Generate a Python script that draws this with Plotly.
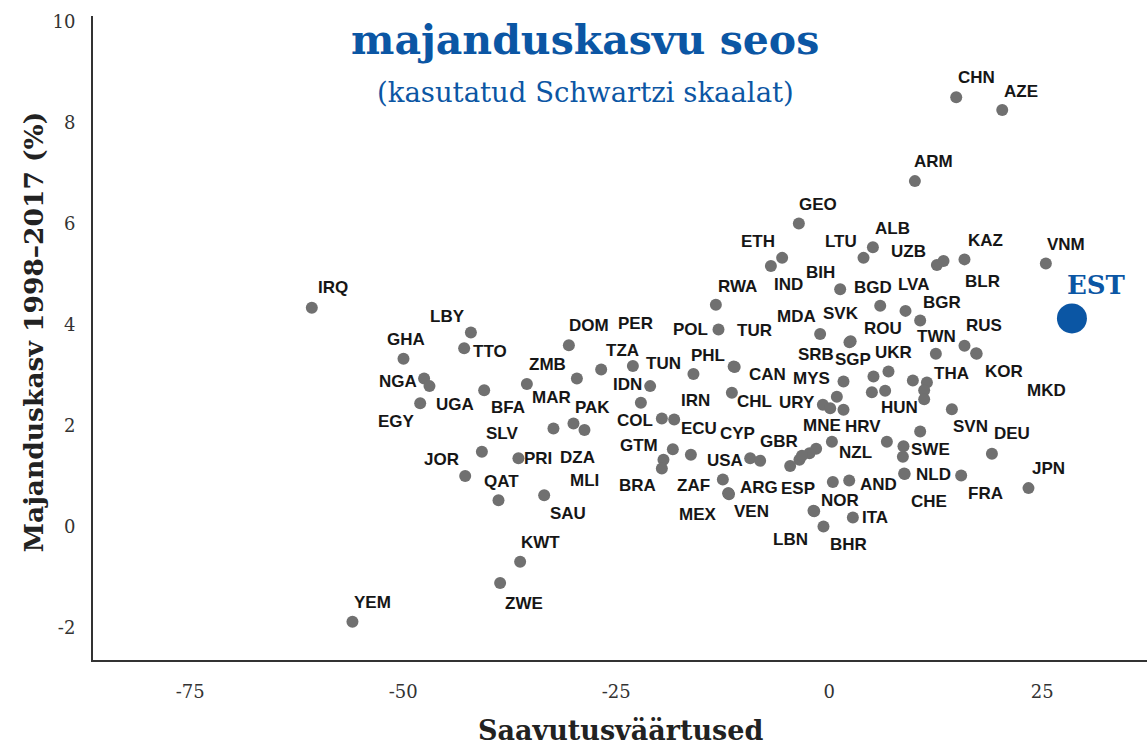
import plotly.graph_objects as go

# ---- data ----
codes = ["IRQ","YEM","GHA","LBY","TTO","NGA","UGA","EGY","BFA","MAR","ZMB","DOM","TZA","PER","TUN",
         "IDN","PAK","DZA","SLV","JOR","PRI","QAT","MLI","SAU","KWT","ZWE","RWA","POL","ETH","IND",
         "GEO","BIH","LTU","ALB","UZB","BLR","KAZ","VNM","CHN","AZE","ARM","BGD","LVA","BGR","MDA",
         "SVK","ROU","RUS","KOR","MKD","TWN","PHL","CAN","TUR","SGP","UKR","SRB","THA","MYS","CHL",
         "COL","IRN","ECU","GTM","BRA","USA","CYP","GBR","MNE","NZL","ZAF","MEX","ARG","VEN","NOR",
         "LBN","ITA","BHR","AND","ESP","NLD","CHE","FRA","JPN","DEU","SVN","SWE","HUN","HRV","URY",
         "X01","X02","X03","X04","X05","X06","X07","X08","X09","X10","X11","X12"]
achievement = [-60.72,-55.95,-49.96,-42.05,-42.84,-47.54,-46.91,-48.00,-40.49,-35.48,-29.61,-30.55,-26.76,-23.04,-21.01,
               -22.10,-30.01,-28.72,-40.76,-42.72,-36.47,-38.81,-32.36,-33.45,-36.27,-38.62,-13.30,-12.99,-5.52,-6.84,
               -3.56,1.29,4.03,5.13,12.64,13.42,15.88,25.43,14.91,20.31,10.06,5.99,8.96,10.68,-1.06,
               2.38,2.52,15.88,17.25,17.31,12.52,-15.93,-11.21,-11.09,5.20,6.96,1.68,11.47,0.90,-11.42,
               -19.64,-18.19,-16.23,-18.35,-19.45,-9.27,-8.10,-3.49,-1.53,0.32,-12.48,-11.82,-11.85,-11.76,-1.84,
               -1.76,2.78,-0.67,2.35,-4.58,8.80,8.86,15.49,23.39,19.10,14.40,8.65,10.68,6.77,-0.74,
               -19.64,-2.31,-3.20,0.43,8.72,0.12,1.68,5.01,6.57,9.82,11.15,11.15]
growth = [4.34,-1.875,3.33,3.85,3.54,2.94,2.79,2.45,2.71,2.83,2.94,3.60,3.12,3.19,2.79,
          2.46,2.05,1.92,1.49,1.01,1.36,0.53,1.95,0.63,-0.69,-1.11,4.40,3.91,5.33,5.17,
          6.01,4.71,5.33,5.54,5.19,5.27,5.30,5.22,8.51,8.26,6.85,4.38,4.28,4.09,3.82,
          3.66,3.68,3.59,3.44,3.43,3.43,3.03,3.18,3.17,2.98,3.08,2.88,2.86,2.58,2.66,
          2.15,2.13,1.43,1.54,1.33,1.36,1.31,1.33,1.55,1.69,0.94,0.67,0.67,0.65,0.32,
          0.31,0.19,0.01,0.92,1.21,1.06,1.05,1.02,0.77,1.45,2.33,1.39,1.89,1.69,2.42,
          1.16,1.46,1.41,0.89,1.60,2.35,2.32,2.67,2.70,2.90,2.71,2.53]

est_code = "EST"
est_achievement = 28.49
est_growth = 4.13

x_ticks = [-75, -50, -25, 0, 25]
y_ticks = [-2, 0, 2, 4, 6, 8, 10]

# label placement (pixel offset of each label from its dot)
label_offsets = {
    "IRQ":(21,-20),"YEM":(20,-19),"GHA":(3,-19),"LBY":(-23,-16),"TTO":(26,3),"NGA":(-26,3),"UGA":(26,18),
    "EGY":(-24,18),"BFA":(24,17),"MAR":(25,13),"ZMB":(-29,-14),"DOM":(20,-20),"TZA":(21,-19),"PER":(3,-42),
    "TUN":(13,-23),"IDN":(-13,-18),"PAK":(19,-16),"DZA":(-7,27),"SLV":(20,-18),"JOR":(-24,-17),"PRI":(20,0),
    "QAT":(3,-19),"MLI":(31,52),"SAU":(24,18),"KWT":(20,-19),"ZWE":(24,20),"RWA":(22,-18),"POL":(-28,0),
    "ETH":(-24,-16),"IND":(18,19),"GEO":(19,-19),"BIH":(-20,-17),"LTU":(-23,-16),"ALB":(20,-19),
    "UZB":(-28,-13),"BLR":(39,21),"KAZ":(21,-19),"VNM":(20,-19),"CHN":(20,-20),"AZE":(19,-18),
    "ARM":(19,-20),"BGD":(-7,-18),"LVA":(8,-26),"BGR":(22,-18),"MDA":(-24,-18),"SVK":(-8,-29),
    "ROU":(32,-13),"RUS":(20,-20),"KOR":(28,18),"MKD":(70,37),"TWN":(1,-17),"PHL":(15,-19),
    "CAN":(34,8),"TUR":(20,-36),"SGP":(-20,-17),"UKR":(5,-19),"SRB":(-28,-27),"THA":(25,-9),
    "MYS":(-25,-18),"CHL":(23,9),"COL":(-27,2),"IRN":(21,-19),"ECU":(8,-26),"GTM":(-34,-4),
    "BRA":(-26,26),"USA":(-25,2),"CYP":(-23,-27),"GBR":(-20,-18),"MNE":(6,-23),"NZL":(24,11),
    "ZAF":(-29,6),"MEX":(-30,21),"ARG":(31,-6),"VEN":(23,17),"NOR":(26,-10),"LBN":(-24,28),
    "ITA":(22,0),"BHR":(25,18),"AND":(29,4),"ESP":(8,23),"NLD":(29,1),"CHE":(24,28),"FRA":(24,18),
    "JPN":(20,-20),"DEU":(20,-20),"SVN":(19,17),"SWE":(28,-7),"HUN":(-21,-24),"HRV":(-24,-15),
    "URY":(-26,-2),
}

BLUE = "#0b56a4"
SERIF = "DejaVu Serif"
SANS = "Liberation Sans"

fig = go.Figure()
fig.add_trace(go.Scatter(x=achievement, y=growth, mode="markers",
                         marker=dict(size=12, color="#707070", line=dict(width=0)),
                         text=codes, hoverinfo="text", showlegend=False))
fig.add_trace(go.Scatter(x=[est_achievement], y=[est_growth], mode="markers",
                         marker=dict(size=30, color=BLUE, line=dict(width=0)),
                         text=[est_code], hoverinfo="text", showlegend=False))

annotations = []
for c, xv, yv in zip(codes, achievement, growth):
    if c in label_offsets:
        dx, dy = label_offsets[c]
        annotations.append(dict(x=xv, y=yv, xref="x", yref="y", text=c, showarrow=False,
                                xshift=dx, yshift=-dy, xanchor="center", yanchor="middle",
                                font=dict(family=SANS, size=17, color="#161616", weight="bold")))
annotations.append(dict(x=est_achievement, y=est_growth, xref="x", yref="y", text=est_code,
                        showarrow=False, xshift=25, yshift=33, xanchor="center", yanchor="middle",
                        font=dict(family=SERIF, size=26, color=BLUE, weight="bold")))

# titles
annotations.append(dict(x=0.467, y=0.963, xref="paper", yref="paper", text="majanduskasvu seos",
                        showarrow=False, xanchor="center", yanchor="middle",
                        font=dict(family=SERIF, size=41, color=BLUE, weight="bold")))
annotations.append(dict(x=0.467, y=0.882, xref="paper", yref="paper", text="(kasutatud Schwartzi skaalat)",
                        showarrow=False, xanchor="center", yanchor="middle",
                        font=dict(family=SERIF, size=27.5, color=BLUE)))
annotations.append(dict(x=-0.0569, y=0.509, xref="paper", yref="paper", text="Majanduskasv 1998–2017 (%)",
                        showarrow=False, xanchor="center", yanchor="middle", textangle=-90,
                        font=dict(family=SERIF, size=26.5, color="#222222", weight="bold")))
annotations.append(dict(x=0.5, y=-0.110, xref="paper", yref="paper", text="Saavutusväärtused",
                        showarrow=False, xanchor="center", yanchor="middle",
                        font=dict(family=SERIF, size=27, color="#222222", weight="bold")))

fig.update_layout(
    width=1147, height=745,
    margin=dict(l=93, r=0, t=16, b=85),
    paper_bgcolor="white", plot_bgcolor="white",
    annotations=annotations,
    xaxis=dict(range=[-86.4, 37.3], tickvals=x_ticks, ticktext=[str(v) for v in x_ticks],
               showgrid=False, zeroline=False, showline=True, linecolor="#333333", linewidth=2,
               ticks="", ticklabelstandoff=14,
               tickfont=dict(family=SERIF, size=18, color="#333333")),
    yaxis=dict(range=[-2.634, 10.12], tickvals=y_ticks, ticktext=[str(v) for v in y_ticks],
               showgrid=False, zeroline=False, showline=True, linecolor="#333333", linewidth=2,
               ticks="", ticklabelstandoff=12,
               tickfont=dict(family=SERIF, size=18, color="#333333")),
)

fig.write_html("out.html",
               config={"displayModeBar": False},
               post_script="document.body.style.margin='0';document.body.style.padding='0';"
                           "document.body.style.overflow='hidden';")
